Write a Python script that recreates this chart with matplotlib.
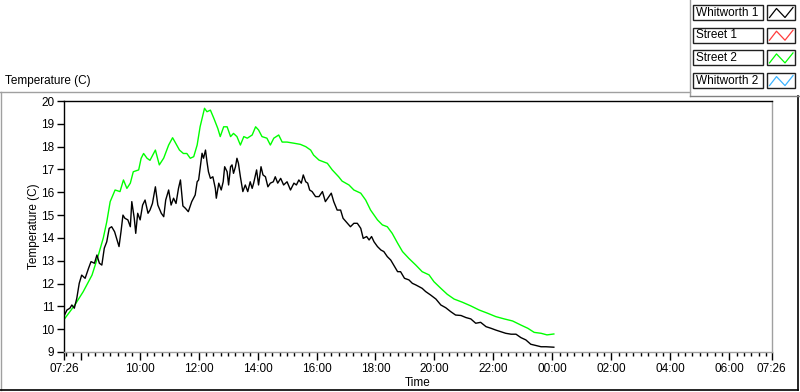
import matplotlib
matplotlib.use('Agg')
import matplotlib.pyplot as plt
from matplotlib.lines import Line2D
from matplotlib.patches import Rectangle
from matplotlib.ticker import FixedLocator

plt.rcParams['font.family'] = ['Liberation Sans', 'DejaVu Sans']
plt.rcParams['font.size'] = 8.5

# minutes after 07:26 and temperature (C)
street2_min = [1, 22, 39, 57, 70, 80, 87, 94, 104, 114, 121, 128, 135, 141, 152, 157, 162, 169,
               175, 186, 194, 203, 213, 221, 226, 235, 243, 250, 257, 264, 271, 277, 286, 291,
               298, 305, 313, 318, 325, 332, 339, 345, 352, 359, 366, 373, 383, 390, 396, 403,
               413, 420, 427, 437, 444, 454, 468, 481, 492, 502, 508, 519, 536, 546, 559, 566,
               580, 590, 604, 614, 624, 638, 648, 658, 668, 679, 689, 702, 716, 729, 743, 753,
               767, 780, 794, 811, 828, 845, 862, 879, 896, 913, 930, 944, 957, 971, 983, 997]
street2_temp = [10.45, 11.06, 11.64, 12.37, 13.25, 14.0, 14.7, 15.59, 16.1, 16.03, 16.54, 16.17,
                16.4, 16.9, 16.98, 17.49, 17.7, 17.49, 17.4, 17.85, 17.2, 17.5, 18.07, 18.39,
                18.2, 17.85, 17.7, 17.7, 17.49, 17.56, 18.07, 18.87, 19.68, 19.53, 19.6, 19.24,
                18.8, 18.44, 18.87, 18.87, 18.44, 18.58, 18.44, 18.07, 18.44, 18.37, 18.51,
                18.87, 18.73, 18.44, 18.37, 18.07, 18.37, 18.51, 18.2, 18.2, 18.15, 18.1, 18.0,
                17.85, 17.63, 17.41, 17.27, 16.98, 16.68, 16.49, 16.32, 16.1, 15.96, 15.66,
                15.22, 14.79, 14.57, 14.49, 14.2, 13.77, 13.4, 13.1, 12.81, 12.52, 12.38, 12.08,
                11.79, 11.53, 11.32, 11.18, 11.02, 10.84, 10.7, 10.55, 10.45, 10.36, 10.18,
                10.04, 9.86, 9.82, 9.75, 9.79]

whitworth1_min = [1, 6, 12, 16, 21, 26, 31, 36, 43, 50, 55, 62, 67, 72, 77, 82, 87, 92, 97, 103,
                  107, 112, 116, 120, 124, 130, 135, 138, 143, 146, 150, 155, 160, 165, 171, 175,
                  180, 186, 191, 198, 203, 207, 213, 218, 223, 228, 233, 237, 242, 247, 253, 260,
                  267, 271, 274, 277, 281, 284, 288, 291, 294, 298, 303, 308, 310, 315, 320, 324,
                  327, 332, 335, 339, 342, 345, 349, 352, 355, 359, 364, 369, 374, 379, 383, 386,
                  392, 396, 401, 405, 410, 415, 420, 426, 430, 435, 441, 447, 454, 461, 468, 473,
                  478, 483, 487, 492, 496, 500, 505, 512, 519, 526, 532, 539, 544, 549, 556, 563,
                  568, 577, 583, 590, 597, 604, 609, 616, 621, 626, 631, 638, 645, 651, 658, 665,
                  673, 679, 685, 693, 702, 709, 716, 723, 729, 736, 746, 757, 767, 777, 787, 797,
                  808, 818, 828, 838, 848, 859, 869, 879, 889, 899, 910, 920, 930, 940, 950, 961,
                  971, 981, 997]
whitworth1_temp = [10.62, 10.84, 10.92, 11.06, 10.92, 11.35, 12.01, 12.37, 12.23, 12.67, 12.96,
                   12.89, 13.25, 12.89, 12.81, 13.55, 13.83, 14.42, 14.49, 14.27, 13.98, 13.62,
                   14.27, 15.0, 14.86, 14.79, 14.49, 15.59, 14.86, 14.2, 15.08, 14.79, 15.44,
                   15.66, 15.08, 15.22, 15.51, 16.24, 15.44, 15.08, 14.93, 15.66, 16.1, 15.44,
                   15.74, 15.51, 16.17, 16.54, 15.4, 15.3, 15.15, 15.59, 15.88, 16.46, 16.54,
                   17.05, 17.71, 17.49, 17.85, 17.34, 16.9, 16.61, 16.68, 16.17, 15.74, 16.4,
                   16.1, 16.46, 17.12, 16.9, 16.32, 17.12, 17.2, 16.83, 17.12, 17.49, 17.27,
                   16.68, 16.03, 16.32, 16.03, 16.46, 16.17, 16.4, 16.98, 16.32, 17.12, 16.76,
                   16.68, 16.24, 16.4, 16.46, 16.68, 16.4, 16.61, 16.32, 16.46, 16.1, 16.4,
                   16.32, 16.54, 16.4, 16.76, 16.46, 16.4, 16.1, 16.03, 15.81, 15.81, 16.03,
                   15.59, 15.81, 15.96, 15.59, 15.22, 15.22, 14.86, 14.64, 14.49, 14.64, 14.64,
                   14.42, 13.98, 14.06, 13.91, 14.06, 13.83, 13.62, 13.47, 13.4, 13.18, 13.03,
                   12.74, 12.52, 12.52, 12.23, 12.16, 12.01, 11.94, 11.86, 11.79, 11.65, 11.5,
                   11.32, 11.06, 10.94, 10.77, 10.62, 10.6, 10.51, 10.45, 10.26, 10.3, 10.11,
                   10.04, 9.96, 9.89, 9.82, 9.78, 9.78, 9.63, 9.53, 9.34, 9.28, 9.23, 9.23, 9.21]

series_names = ['Whitworth 1', 'Street 1', 'Street 2', 'Whitworth 2']
series_colors = ['#000000', '#ff3c3c', '#00ff00', '#3cb4ff']

start_clock = 7 * 60 + 26
major_clocks = ['07:26', '08:00', '10:00', '12:00', '14:00', '16:00', '18:00', '20:00',
                '22:00', '00:00', '02:00', '04:00', '06:00']


def clock_to_min(s):
    h, m = s.split(':')
    return (int(h) * 60 + int(m) - start_clock) % 1440


major_pos = [clock_to_min(c) for c in major_clocks] + [1440]
major_lab = [c if c != '08:00' else '' for c in major_clocks] + ['07:26']
minor_pos = list(range(4, 1440, 15))

W, H = 800, 392
fig = plt.figure(figsize=(W / 100, H / 100), dpi=100)
fig.patch.set_facecolor('white')

ax = fig.add_axes([64 / W, 40 / H, 707.5 / W, 251 / H])
ax.plot(street2_min, street2_temp, color=series_colors[2], lw=1)
ax.plot(whitworth1_min, whitworth1_temp, color=series_colors[0], lw=1)

ax.set_xlim(0, 1440)
ax.set_ylim(9, 20)
ax.set_yticks(range(9, 21))
ax.xaxis.set_major_locator(FixedLocator(major_pos))
ax.set_xticklabels(major_lab)
ax.xaxis.set_minor_locator(FixedLocator(minor_pos))
ax.tick_params(axis='both', which='major', length=5, width=1, color='black', labelsize=8.5, pad=2)
ax.tick_params(axis='x', which='minor', length=3, width=1, color='black')
ax.tick_params(axis='x', which='major', length=6)
ax.spines['left'].set_color('black')
ax.spines['top'].set_color('black')
ax.spines['right'].set_color('#a0a0a0')
ax.spines['bottom'].set_color('#a0a0a0')
for s in ax.spines.values():
    s.set_linewidth(1)
ax.set_ylabel('Temperature (C)', labelpad=1)
ax.set_xlabel('Time', labelpad=1)

# panel frame and title
fig.add_artist(Line2D([0, 690 / W], [1 - 92 / H, 1 - 92 / H], color='#a0a0a0', lw=1))
fig.add_artist(Line2D([0.5 / W, 0.5 / W], [1 - 92 / H, 1 - 390 / H], color='#a0a0a0', lw=1))
fig.add_artist(Line2D([0, 798 / W], [1 - 390 / H, 1 - 390 / H], color='black', lw=1.2))
fig.add_artist(Line2D([798 / W, 798 / W], [1 - 96 / H, 1 - 390 / H], color='black', lw=1.2))
fig.text(5 / W, 1 - 81 / H, 'Temperature (C)', ha='left', va='center', fontsize=8.5)

# legend panel
fig.add_artist(Line2D([690 / W, 690 / W], [1, 1 - 96 / H], color='#a0a0a0', lw=1))
fig.add_artist(Line2D([690 / W, 1], [1 - 96 / H, 1 - 96 / H], color='#808080', lw=1))
for i, (name, col) in enumerate(zip(series_names, series_colors)):
    top = 5 + i * 22.7
    fig.add_artist(Rectangle((693 / W, 1 - (top + 15) / H), 70 / W, 15 / H,
                             fill=False, edgecolor='#202020', lw=1))
    fig.add_artist(Rectangle((767 / W, 1 - (top + 15) / H), 28 / W, 15 / H,
                             fill=False, edgecolor='#202020', lw=1))
    fig.text(696 / W, 1 - (top + 7.5) / H, name, ha='left', va='center', fontsize=8.5)
    zx = [769.5, 776.5, 785, 793]
    zy = [top + 12.5, top + 3.5, top + 12.5, top + 2.5]
    fig.add_artist(Line2D([x / W for x in zx], [1 - y / H for y in zy], color=col, lw=0.9))

fig.savefig('out.png', dpi=100)
